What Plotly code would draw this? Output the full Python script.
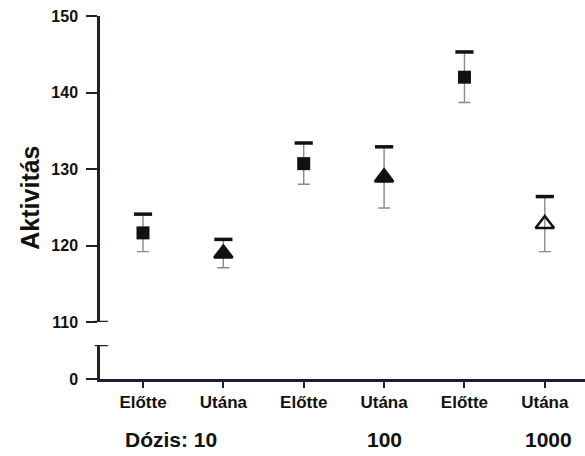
import plotly.graph_objects as go

# Data: activity before/after treatment at three doses
categories = ["Előtte", "Utána", "Előtte", "Utána", "Előtte", "Utána"]
doses = ["Dózis: 10", "100", "1000"]
before_mean = [121.65, 130.7, 142.0]
before_err = [2.45, 2.7, 3.3]
after_mean = [118.95, 128.9, 122.8]
after_err = [1.85, 4.0, 3.6]
after_symbols = ["triangle-up", "triangle-up", "triangle-up-open"]

x_before = [0, 2, 4]
x_after = [1, 3, 5]

INK = "#111111"
AXIS = "#1c2030"
STEM = "#8a8a8a"
FONT = "Liberation Sans, Arial, sans-serif"

fig = go.Figure()

# Before: filled squares with grey whiskers
fig.add_trace(go.Scatter(
    x=x_before, y=before_mean, mode="markers",
    marker=dict(symbol="square", size=13, color=INK),
    error_y=dict(type="data", array=before_err, arrayminus=before_err,
                 color=STEM, thickness=1.4, width=6),
    xaxis="x", yaxis="y", showlegend=False,
))

# After: triangles (last one open)
fig.add_trace(go.Scatter(
    x=x_after, y=after_mean, mode="markers",
    marker=dict(symbol=after_symbols, size=16, color=INK,
                line=dict(color=INK, width=2.5)),
    error_y=dict(type="data", array=after_err, arrayminus=after_err,
                 color=STEM, thickness=1.4, width=6),
    xaxis="x", yaxis="y", showlegend=False,
))

# Heavy black upper caps at mean + error
cap_x = x_before + x_after
cap_y = [m + e for m, e in zip(before_mean, before_err)] + \
        [m + e for m, e in zip(after_mean, after_err)]
fig.add_trace(go.Scatter(
    x=cap_x, y=cap_y, mode="markers",
    marker=dict(symbol="line-ew", size=13, line=dict(color=INK, width=3.5)),
    xaxis="x", yaxis="y", showlegend=False,
))

# Invisible trace to anchor the lower (zero) segment
fig.add_trace(go.Scatter(x=[0], y=[0], mode="markers", marker=dict(opacity=0),
                         xaxis="x", yaxis="y2", showlegend=False, hoverinfo="skip"))

tick_font = dict(family=FONT, size=16, color=INK, weight="bold")

fig.update_layout(
    width=585, height=456,
    margin=dict(l=100, r=0, t=16, b=77),
    paper_bgcolor="white", plot_bgcolor="white",
    xaxis=dict(
        range=[-0.535, 5.5], anchor="y2",
        tickmode="array", tickvals=list(range(len(categories))), ticktext=categories,
        showline=True, linecolor=AXIS, linewidth=2.5,
        ticks="outside", ticklen=6, tickwidth=2, tickcolor=AXIS,
        showgrid=False, zeroline=False,
        tickfont=dict(family=FONT, size=17, color=INK, weight="bold"),
    ),
    yaxis=dict(
        domain=[0.157, 1.0], range=[110, 150],
        tickmode="array", tickvals=[110, 120, 130, 140, 150],
        showline=True, linecolor=AXIS, linewidth=2.5,
        ticks="outside", ticklen=11, tickwidth=2, tickcolor=AXIS,
        showgrid=False, zeroline=False, tickfont=tick_font,
        ticklabelstandoff=5,
    ),
    yaxis2=dict(
        domain=[0.0, 0.0937], range=[0, 1],
        tickmode="array", tickvals=[0],
        showline=True, linecolor=AXIS, linewidth=2.5,
        ticks="outside", ticklen=11, tickwidth=2, tickcolor=AXIS,
        showgrid=False, zeroline=False, tickfont=tick_font,
        ticklabelstandoff=5,
    ),
)

# Axis break bars
fig.add_shape(type="line", xref="paper", yref="y", x0=-0.011, x1=0.016, y0=110, y1=110,
              line=dict(color=AXIS, width=2.5))
fig.add_shape(type="line", xref="paper", yref="y2", x0=-0.011, x1=0.016, y0=1, y1=1,
              line=dict(color=AXIS, width=2.5))

# Axis title
fig.add_annotation(text="Aktivitás", xref="paper", yref="paper", x=-0.146, y=0.5,
                   textangle=-90, showarrow=False, xanchor="center", yanchor="middle",
                   font=dict(family=FONT, size=25, color=INK, weight="bold"))

# Dose labels under the category pairs
dose_font = dict(family=FONT, size=21, color=INK, weight="bold")
fig.add_annotation(text=doses[0], xref="x", yref="paper", x=0.95, y=-0.168,
                   xanchor="right", yanchor="middle", showarrow=False, font=dose_font)
fig.add_annotation(text=doses[1], xref="x", yref="paper", x=3.0, y=-0.168,
                   xanchor="center", yanchor="middle", showarrow=False, font=dose_font)
fig.add_annotation(text=doses[2], xref="x", yref="paper", x=5.05, y=-0.168,
                   xanchor="center", yanchor="middle", showarrow=False, font=dose_font)

fig.write_html("out.html")
